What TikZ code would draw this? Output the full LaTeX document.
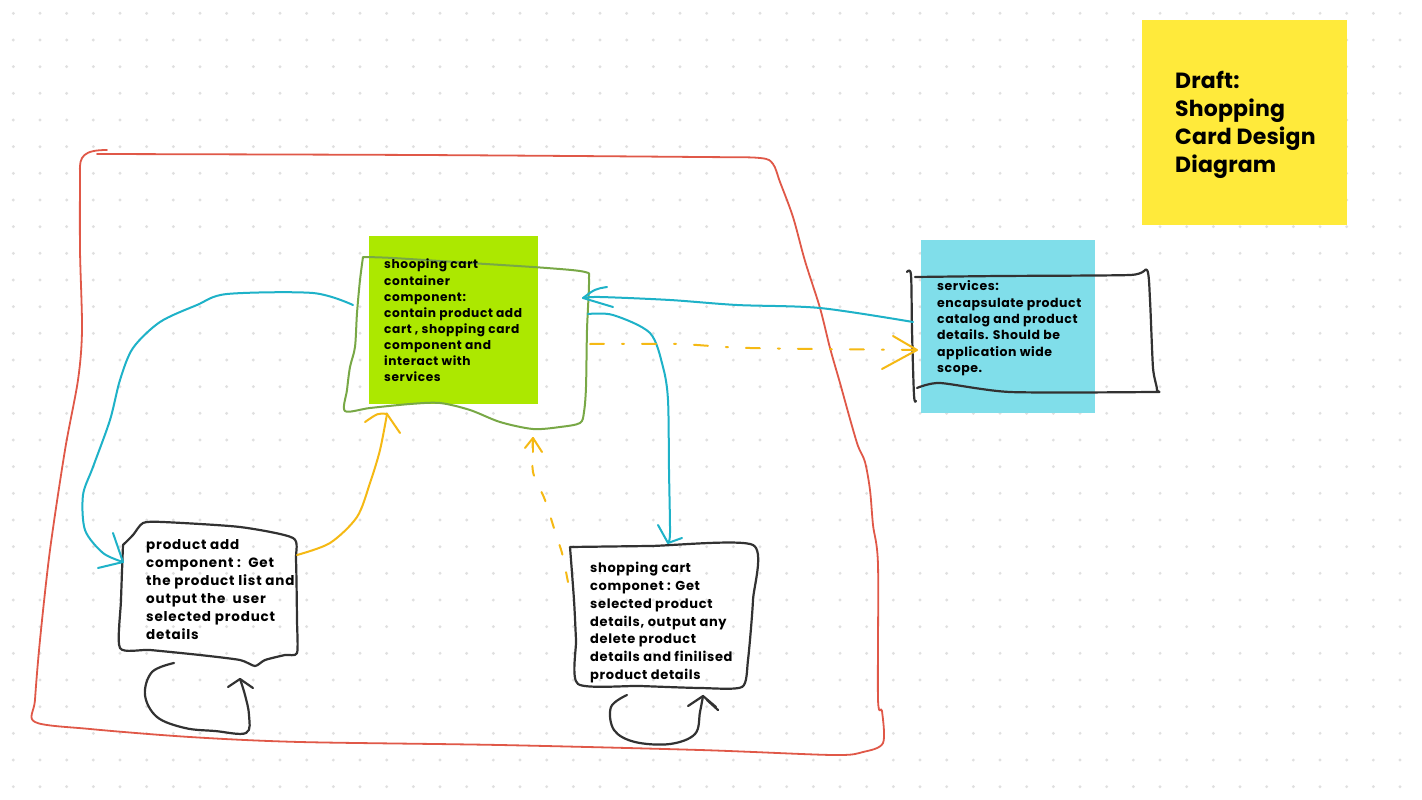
\documentclass[tikz,border=0pt]{standalone}
\usepackage{fontspec}
\setmainfont{Poppins}
\usetikzlibrary{arrows.meta}
\definecolor{redc}{RGB}{224,88,72}
\definecolor{cyanc}{RGB}{30,178,200}
\definecolor{yelc}{RGB}{245,185,20}
\definecolor{grnc}{RGB}{120,168,70}
\definecolor{inkc}{RGB}{50,50,50}
\definecolor{greennote}{RGB}{172,232,0}
\definecolor{bluenote}{RGB}{128,222,234}
\definecolor{yellownote}{RGB}{255,234,59}
\definecolor{dotc}{RGB}{224,224,224}
\begin{document}
\begin{tikzpicture}[x=1pt,y=-1pt,
  note/.style={draw=none,anchor=north west,inner sep=0pt},
  txt/.style={anchor=north west,inner sep=0pt,align=left,text=black},
  redline/.style={draw=redc,line width=1.8pt,line join=round,line cap=round},
  grnline/.style={draw=grnc,line width=2pt,line join=round,line cap=round},
  inkline/.style={draw=inkc,line width=2.2pt,line join=round,line cap=round},
  cyanline/.style={draw=cyanc,line width=2pt,line join=round,line cap=round},
  yelline/.style={draw=yelc,line width=2pt,line join=round,line cap=round},
  yeldash/.style={yelline,dash pattern=on 10pt off 18pt},
  yeldashdot/.style={yelline,dash pattern=on 14pt off 18pt on 2pt off 18pt}]
\useasboundingbox[fill=white] (0,0) rectangle (1422,800);
% dot grid
\foreach \i in {0,...,52}{\foreach \j in {0,...,29}{
  \fill[dotc] (13.33+26.667*\i,13.33+26.667*\j) circle (1.6);}}
% sticky notes
\node[note,fill=greennote,minimum width=169pt,minimum height=168pt] (gnote) at (369,236) {};
\node[note,fill=bluenote,minimum width=174pt,minimum height=173pt] (bnote) at (921,240) {};
\node[note,fill=yellownote,minimum width=205pt,minimum height=205pt] (ynote) at (1142,20) {};
% red outline
\draw[redline] plot[smooth,tension=0.5] coordinates {(97,154) (420,155) (700,157) (760,158) (773,164) (780,182) (793,217) (805,261) (820,308) (830,348) (840,383) (850,419) (858,446) (865,462) (870,490) (873,525) (878,565) (878,699) (882,711) (883,743) (863,752) (833,755) (700,750) (500,745) (300,742) (190,737) (90,729) (35,722) (35,700) (40,640) (50,550) (65,450) (78,380) (82,330) (80,250) (80,172)};
\draw[redline] (80,172) .. controls (79,156) and (84,150) .. (107,150);
% green outline
\draw[grnline] plot[smooth,tension=0.5] coordinates {(363,257) (393,258) (470,263) (547,268) (585,272) (589,280) (587,330) (586,387) (584,412) (580,423) (560,427) (533,429) (500,422) (470,410) (440,403) (410,404) (370,408) (345,411) (347,390) (350,367) (355,347) (357,313) (360,280) (363,257)};
% services outline
\draw[inkline] plot[smooth,tension=0.5] coordinates {(907,272) (911,275) (912,330) (914,395) (916,401)};
\draw[inkline] plot[smooth,tension=0.4] coordinates {(915,277) (1000,276) (1130,275) (1147,270) (1150,300) (1153,368) (1157,390) (1150,392) (1010,392) (940,383) (917,388)};
% product add box
\draw[inkline] plot[smooth,tension=0.4] coordinates {(123,545) (133,535) (143,523) (163,522) (240,527) (293,538) (296,560) (297,620) (297,653) (285,655) (265,660) (255,666) (240,660) (200,655) (150,650) (120,648) (121,600) (123,545)};
% shopping cart box
\draw[inkline] plot[smooth,tension=0.4] coordinates {(570,547) (650,546) (753,545) (753,600) (748,660) (742,687) (700,688) (640,686) (578,684) (576,640) (574,600) (570,547)};
% anchors
\coordinate (pa-bot) at (174,663);
\coordinate (pa-tip) at (240,679);
\coordinate (sc-bot) at (627,695);
\coordinate (sc-tip) at (703,696);
\coordinate (gn-left) at (353,305);
\coordinate (pa-left) at (123,562);
\coordinate (sv-left) at (913,322);
\coordinate (gn-right) at (583,298);
\coordinate (gn-right2) at (588,314);
\coordinate (sc-top) at (668,543);
\coordinate (pa-right) at (297,555);
\coordinate (gn-bot) at (387,414);
\coordinate (sc-left) at (568,582);
\coordinate (gn-bot2) at (533,438);
\coordinate (gn-right3) at (590,344);
\coordinate (sv-left2) at (917,350);
% self loops
\draw[inkline] plot[smooth,tension=0.6] coordinates {(pa-bot) (152,672) (145,695) (157,717) (185,728) (215,731) (246,733) (249,715) (245,695) (pa-tip)};
\draw[inkline] (228,687) -- (pa-tip) -- (253,688);
\draw[inkline] plot[smooth,tension=0.6] coordinates {(sc-bot) (611,707) (614,730) (635,742) (670,744) (695,734) (700,712) (sc-tip)};
\draw[inkline] (688,706) -- (sc-tip) -- (716,707);
\draw[inkline] (707,700) -- (718,710);
% cyan connectors
\draw[cyanline] plot[smooth,tension=0.5] coordinates {(gn-left) (313,293) (227,294) (197,305) (160,322) (133,348) (120,380) (110,420) (93,467) (83,495) (85,530) (103,553) (pa-left)};
\draw[cyanline] (113,533) -- (pa-left) -- (98,568);
\draw[cyanline] plot[smooth,tension=0.5] coordinates {(sv-left) (820,308) (737,305) (670,300) (600,297) (gn-right)};
\draw[cyanline] (607,287) .. controls (595,289) .. (gn-right) -- (613,307);
\draw[cyanline] plot[smooth,tension=0.5] coordinates {(gn-right2) (613,315) (650,333) (663,367) (668,400) (669,470) (670,533) (sc-top)};
\draw[cyanline] (658,525) -- (sc-top) -- (682,538);
% yellow connectors
\draw[yelline] plot[smooth,tension=0.5] coordinates {(pa-right) (330,543) (357,517) (370,483) (380,450) (gn-bot)};
\draw[yelline] (365,422) .. controls (378,413) .. (gn-bot) -- (400,433);
\draw[yeldash] plot[smooth,tension=0.5] coordinates {(sc-left) (562,553) (557,538) (545,500) (533,472) (gn-bot2)};
\draw[yelline] (525,448) -- (gn-bot2) -- (542,452);
\draw[yelline] (gn-bot2) -- (533,452);
\draw[yeldashdot] plot[smooth,tension=0.5] coordinates {(gn-right3) (677,344) (750,348) (sv-left2)};
\draw[yelline] (893,336) -- (sv-left2) -- (882,369);
% texts
\node[txt,font=\bfseries\fontsize{12.2}{16.1}\selectfont\addfontfeatures{LetterSpace=4.8}] (gtext) at (384,259) {shooping cart\\container\\component:\\contain product add\\cart , shopping card\\component and\\interact with\\services};
\node[txt,font=\bfseries\fontsize{12.5}{16.4}\selectfont\addfontfeatures{LetterSpace=4.3}] (stext) at (937,280.5) {services:\\encapsulate product\\catalog and product\\details. Should be\\application wide\\scope.};
\node[txt,font=\bfseries\fontsize{22}{28}\selectfont\addfontfeatures{LetterSpace=0.8}] (title) at (1175,71.5) {Draft:\\Shopping\\Card Design\\Diagram};
\node[txt,font=\bfseries\fontsize{13.5}{18.1}\selectfont\addfontfeatures{LetterSpace=6}] (patext) at (146,539) {product add\\component :\ \ Get\\the product list and\\output the\ \ user\\selected product\\details};
\node[txt,font=\bfseries\fontsize{13}{17.7}\selectfont\addfontfeatures{LetterSpace=5}] (sctext) at (590,562.3) {shopping cart\\componet : Get\\selected product\\details, output any\\delete product\\details and finilised\\product details};
\end{tikzpicture}
\end{document}
